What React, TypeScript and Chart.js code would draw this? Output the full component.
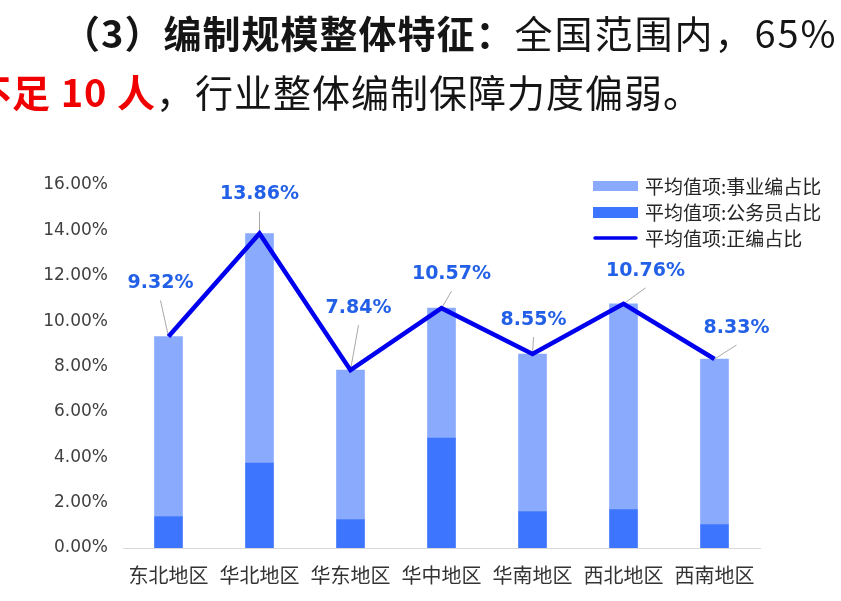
import React, { useEffect, useRef } from 'react';
import { Chart, registerables } from 'chart.js';

Chart.register(...registerables);

const categories = ['东北地区', '华北地区', '华东地区', '华中地区', '华南地区', '西北地区', '西南地区'];
const civilServantShare = [1.39, 3.74, 1.25, 4.84, 1.61, 1.69, 1.03];
const institutionShare = [7.93, 10.12, 6.59, 5.73, 6.94, 9.07, 7.3];
const totalShare = [9.32, 13.86, 7.84, 10.57, 8.55, 10.76, 8.33];
const seriesNames = ['平均值项:事业编占比', '平均值项:公务员占比', '平均值项:正编占比'];
const yMin = 0;
const yMax = 16;
const yStep = 2;
const titleLine1Bold = '（3）编制规模整体特征：';
const titleLine1Rest = '全国范围内，65%';
const titleLine2Red = '不足 10 人';
const titleLine2Rest = '，行业整体编制保障力度偏弱。';

// label placement (offset from point, px)
const labelOffsets = [[-8, -53], [0, -39], [8, -62], [10, -34], [1, -34], [22, -33], [22, -31]];

const LIGHT = '#8aabfd';
const DARK = '#3d75fe';
const LINE = '#0000ee';
const LABEL = '#2360e8';
const CJK = '"Noto Sans CJK SC", "Noto Sans", sans-serif';

const overlayPlugin = {
  id: 'overlay',
  beforeDatasetDraw(chart: any, args: any) {
    if (args.index !== 2) return;
    const ctx = chart.ctx;
    const meta = chart.getDatasetMeta(2);
    ctx.save();
    ctx.strokeStyle = '#a8a8a8';
    ctx.lineWidth = 1;
    meta.data.forEach((pt: any, i: number) => {
      const [dx, dy] = labelOffsets[i];
      ctx.beginPath();
      ctx.moveTo(pt.x + dx, pt.y + dy + 17);
      ctx.lineTo(pt.x, pt.y);
      ctx.stroke();
    });
    ctx.restore();
  },
  afterDatasetsDraw(chart: any) {
    const ctx = chart.ctx;
    const meta = chart.getDatasetMeta(2);
    ctx.save();
    ctx.font = 'bold 19px "DejaVu Sans", sans-serif';
    ctx.fillStyle = LABEL;
    ctx.textAlign = 'center';
    ctx.textBaseline = 'middle';
    meta.data.forEach((pt: any, i: number) => {
      const [dx, dy] = labelOffsets[i];
      ctx.fillText(totalShare[i].toFixed(2) + '%', pt.x + dx, pt.y + dy);
    });
    ctx.restore();
  },
  afterDraw(chart: any) {
    const ctx = chart.ctx;
    const top = chart.chartArea.top;
    const x0 = 593;
    const rows = [top + 1, top + 27, top + 53];
    ctx.save();
    ctx.fillStyle = LIGHT;
    ctx.fillRect(x0, rows[0] - 5, 45, 10);
    ctx.fillStyle = DARK;
    ctx.fillRect(x0, rows[1] - 5, 45, 11);
    ctx.strokeStyle = LINE;
    ctx.lineWidth = 3.5;
    ctx.lineCap = 'round';
    ctx.beginPath();
    ctx.moveTo(x0 + 2, rows[2]);
    ctx.lineTo(x0 + 43, rows[2]);
    ctx.stroke();
    ctx.font = '19px ' + CJK;
    ctx.fillStyle = '#262626';
    ctx.textAlign = 'left';
    ctx.textBaseline = 'middle';
    seriesNames.forEach((n, i) => ctx.fillText(n, x0 + 52, rows[i] + 1));
    ctx.restore();
  },
};

export default function App() {
  const ref = useRef<HTMLCanvasElement | null>(null);

  useEffect(() => {
    if (!ref.current) return;
    const chart = new Chart(ref.current, {
      type: 'bar',
      data: {
        labels: categories,
        datasets: [
          {
            label: seriesNames[1],
            data: civilServantShare,
            backgroundColor: DARK,
            stack: 'bars',
            barThickness: 28,
            order: 1,
          },
          {
            label: seriesNames[0],
            data: institutionShare,
            backgroundColor: LIGHT,
            stack: 'bars',
            barThickness: 28,
            order: 2,
          },
          {
            type: 'line',
            label: seriesNames[2],
            data: totalShare,
            borderColor: LINE,
            backgroundColor: LINE,
            borderWidth: 4.5,
            pointRadius: 0,
            tension: 0,
            stack: 'line',
            order: 0,
          } as any,
        ],
      },
      options: {
        animation: false,
        responsive: true,
        maintainAspectRatio: false,
        layout: { padding: { left: 0, right: 81, top: 185, bottom: 0 } },
        plugins: {
          legend: { display: false },
          tooltip: { enabled: false },
          title: { display: false },
        },
        scales: {
          x: {
            stacked: true,
            grid: { display: false, drawTicks: false },
            border: { display: true, color: '#d9d9d9', width: 1 },
            ticks: {
              color: '#333333',
              font: { family: CJK, size: 20 },
              padding: 15,
              maxRotation: 0,
              autoSkip: false,
            },
            afterFit: (s: any) => {
              s.height = 53;
            },
          },
          y: {
            stacked: true,
            min: yMin,
            max: yMax,
            grid: { display: false, drawTicks: false },
            border: { display: false },
            ticks: {
              stepSize: yStep,
              color: '#404040',
              font: { family: '"DejaVu Sans", sans-serif', size: 17 },
              padding: 15,
              callback: (v: any) => Number(v).toFixed(2) + '%',
            },
            afterFit: (s: any) => {
              s.width = 123;
            },
          },
        },
      },
      plugins: [overlayPlugin],
    });
    return () => chart.destroy();
  }, []);

  return (
    <div
      style={{
        position: 'fixed',
        left: 0,
        top: 0,
        width: 841,
        height: 601,
        overflow: 'hidden',
        background: '#ffffff',
      }}
    >
      <div style={{ position: 'absolute', left: 0, top: 0, width: 841, height: 601 }}>
        <canvas ref={ref} />
      </div>
      <div
        style={{
          position: 'absolute',
          left: 62,
          top: 13,
          whiteSpace: 'nowrap',
          fontFamily: CJK,
          fontSize: 38,
          lineHeight: '38px',
          letterSpacing: 1,
          color: '#151515',
        }}
      >
        <span style={{ fontWeight: 700 }}>{titleLine1Bold}</span>
        <span style={{ letterSpacing: 2 }}>{titleLine1Rest}</span>
      </div>
      <div
        style={{
          position: 'absolute',
          left: -27,
          top: 72,
          whiteSpace: 'nowrap',
          fontFamily: CJK,
          fontSize: 38,
          lineHeight: '38px',
          letterSpacing: 1,
          color: '#151515',
        }}
      >
        <span style={{ fontWeight: 700, color: '#f00000' }}>{titleLine2Red}</span>
        <span>{titleLine2Rest}</span>
      </div>
    </div>
  );
}
